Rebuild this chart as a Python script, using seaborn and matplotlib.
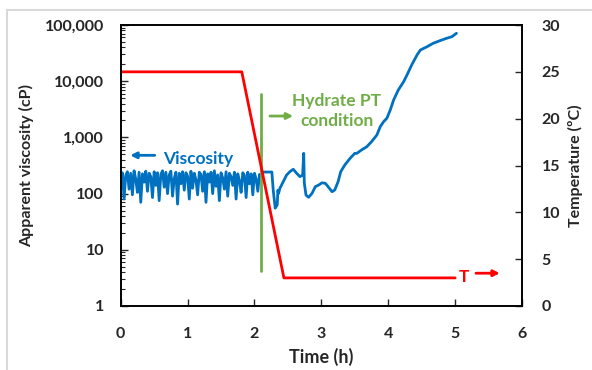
import numpy as np
import matplotlib.pyplot as plt
import seaborn as sns
from matplotlib.lines import Line2D
from matplotlib.ticker import FuncFormatter, LogLocator, NullFormatter

sns.set_style("ticks")
plt.rcParams['font.family'] = ['Lato', 'DejaVu Sans']
plt.rcParams['font.weight'] = 'bold'

# 점도 데이터 (0 ~ 2.1 h, 잡음 구간)
t_noise = [0.000, 0.025, 0.050, 0.075, 0.100, 0.125, 0.150, 0.175, 0.200, 0.225,
           0.250, 0.275, 0.300, 0.325, 0.350, 0.375, 0.400, 0.425, 0.450, 0.475,
           0.500, 0.525, 0.550, 0.575, 0.600, 0.625, 0.650, 0.675, 0.700, 0.725,
           0.750, 0.775, 0.800, 0.825, 0.850, 0.875, 0.900, 0.925, 0.950, 0.975,
           1.000, 1.025, 1.050, 1.075, 1.100, 1.125, 1.150, 1.175, 1.200, 1.225,
           1.250, 1.275, 1.300, 1.325, 1.350, 1.375, 1.400, 1.425, 1.450, 1.475,
           1.500, 1.525, 1.550, 1.575, 1.600, 1.625, 1.650, 1.675, 1.700, 1.725,
           1.750, 1.775, 1.800, 1.825, 1.850, 1.875, 1.900, 1.925, 1.950, 1.975,
           2.000, 2.025, 2.050, 2.075, 2.100]
v_noise = [150, 235, 80, 210, 245, 120, 230, 95, 255, 180,
           105, 240, 70, 225, 160, 250, 110, 230, 200, 85,
           245, 140, 235, 75, 220, 255, 130, 240, 100, 215,
           250, 90, 185, 240, 65, 230, 150, 245, 115, 235,
           205, 80, 250, 125, 230, 175, 95, 240, 220, 110,
           245, 70, 225, 160, 240, 100, 255, 135, 215, 75,
           235, 190, 120, 245, 90, 230, 200, 140, 240, 80,
           225, 170, 105, 235, 210, 85, 240, 150, 225, 95,
           230, 180, 110, 220, 200]

# 하이드레이트 생성 이후
t_post = [2.13, 2.26, 2.28, 2.31, 2.34, 2.35, 2.36, 2.38, 2.43,
          2.48, 2.53, 2.58, 2.63, 2.68, 2.72, 2.736, 2.745, 2.77, 2.81,
          2.86, 2.91, 2.96, 3.01, 3.06, 3.10, 3.16, 3.20, 3.25, 3.29,
          3.35, 3.43, 3.50, 3.53, 3.60, 3.68, 3.75, 3.83, 3.88, 3.93,
          3.98, 4.03, 4.08, 4.15, 4.23, 4.28, 4.35, 4.43, 4.48, 4.58,
          4.67, 4.77, 4.87, 4.95, 5.02]
v_post = [242, 242, 116, 55, 63, 115, 101, 124, 163,
          214, 246, 271, 230, 200, 214, 521, 154, 94, 86,
          101, 133, 142, 156, 152, 133, 108, 116, 163, 246,
          323, 425, 521, 520, 597, 684, 839, 1104, 1549, 1900,
          2200, 3073, 4630, 6970, 9800, 12900, 19400, 29250, 35900, 41100,
          47200, 52500, 57900, 61900, 71200]

# 온도
t_temp = [0.0, 1.81, 2.44, 5.0]
temp = [25, 25, 3, 3]

# 하이드레이트 PT 조건 (세로선)
t_hydrate = [2.09, 2.09]
temp_hydrate = [3.7, 22.6]

time = t_noise + t_post
visc = v_noise + v_post

blue = '#0070C0'
red = '#FF0000'
green = '#70AD47'

fig = plt.figure(figsize=(5.92, 3.70), dpi=100)
ax = fig.add_axes([0.2039, 0.173, 0.6779, 0.7594])
ax2 = ax.twinx()

sns.lineplot(x=time, y=visc, ax=ax, color=blue, lw=2, estimator=None, sort=False)
sns.lineplot(x=t_hydrate, y=temp_hydrate, ax=ax2, color=green, lw=2, estimator=None)
sns.lineplot(x=t_temp, y=temp, ax=ax2, color=red, lw=2, estimator=None)

ax.set_yscale('log')
ax.set_ylim(1, 100000)
ax.set_xlim(0, 6)
ax.set_xticks(range(0, 7))
ax.yaxis.set_major_locator(LogLocator(base=10, numticks=10))
ax.yaxis.set_minor_locator(LogLocator(base=10, subs=np.arange(2, 10), numticks=50))
ax.yaxis.set_minor_formatter(NullFormatter())
ax.yaxis.set_major_formatter(FuncFormatter(lambda v, p: '{:,.0f}'.format(v)))
ax2.set_ylim(0, 30)
ax2.set_yticks(range(0, 31, 5))

ax.tick_params(axis='y', which='major', direction='in', length=5, width=1, pad=12, labelsize=11.5)
ax.tick_params(axis='y', which='minor', direction='in', length=3, width=0.8)
ax.tick_params(axis='x', direction='in', length=5, width=1, pad=15, labelsize=11.5)
ax2.tick_params(axis='y', direction='in', length=5, width=1, pad=14, labelsize=11.5)

for a in (ax, ax2):
    for s in a.spines.values():
        s.set_linewidth(1.2)
        s.set_color('black')

ax.set_xlabel('Time (h)', fontsize=13, fontweight='bold', labelpad=5)
ax.set_ylabel('Apparent viscosity (cP)', fontsize=11.5, fontweight='bold', labelpad=8)
ax2.set_ylabel('Temperature (\u00baC)', fontsize=11.5, fontweight='bold', labelpad=6)

# 주석
ax.text(0.64, 420, 'Viscosity', color=blue, fontsize=12.5, fontweight='bold', va='center', ha='left')
ax.annotate('', xy=(0.10, 480), xytext=(0.55, 480),
            arrowprops=dict(arrowstyle='-|>', color=blue, lw=2, mutation_scale=9))
ax.text(3.23, 3000, 'Hydrate PT\ncondition', color=green, fontsize=12.5, fontweight='bold',
        va='center', ha='center', linespacing=1.3)
ax.annotate('', xy=(2.62, 2400), xytext=(2.19, 2400),
            arrowprops=dict(arrowstyle='-|>', color=green, lw=2, mutation_scale=9))
ax2.text(5.13, 3.1, 'T', color=red, fontsize=12.5, fontweight='bold', va='center', ha='center')
ax2.annotate('', xy=(5.71, 3.5), xytext=(5.27, 3.5),
             arrowprops=dict(arrowstyle='-|>', color=red, lw=2, mutation_scale=9))

# 바깥 테두리
fig.add_artist(Line2D([7 / 592, 7 / 592], [0, 1 - 10 / 370], color='#D9D9D9', lw=1.5))
fig.add_artist(Line2D([7 / 592, 1], [1 - 10 / 370, 1 - 10 / 370], color='#D9D9D9', lw=1.5))

fig.savefig('out.png', dpi=100)
